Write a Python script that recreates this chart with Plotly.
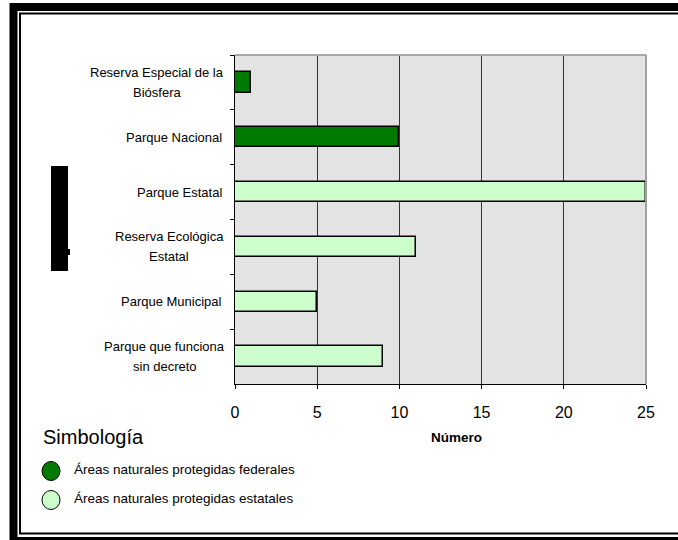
import plotly.graph_objects as go

# Categorías (de arriba hacia abajo) y etiquetas mostradas
categorias = [
    "Reserva Especial de la Biósfera",
    "Parque Nacional",
    "Parque Estatal",
    "Reserva Ecológica Estatal",
    "Parque Municipal",
    "Parque que funciona sin decreto",
]
etiquetas = [
    ["Reserva Especial de la", "Biósfera"],
    ["Parque Nacional"],
    ["Parque Estatal"],
    ["Reserva Ecológica", "Estatal"],
    ["Parque Municipal"],
    ["Parque que funciona", "sin decreto"],
]

# Áreas naturales protegidas federales
cat_federales = ["Reserva Especial de la Biósfera", "Parque Nacional"]
val_federales = [1, 10]

# Áreas naturales protegidas estatales
cat_estatales = ["Parque Estatal", "Reserva Ecológica Estatal",
                 "Parque Municipal", "Parque que funciona sin decreto"]
val_estatales = [25, 11, 5, 9]

x_ticks = [0, 5, 10, 15, 20, 25]

VERDE = "#007A00"
VERDE_CLARO = "#CCFFCC"
FONT = "Liberation Sans, Arial, sans-serif"

W, H = 678, 540
ML, MR, MT, MB = 235, 32, 55, 156
PW, PH = W - ML - MR, H - MT - MB

# Centro horizontal (px) de las etiquetas de dos líneas
CENTRO_ETIQ = {0: 157, 3: 169, 5: 164.5}


def px(x):
    return (x - ML) / PW


def py(y):
    return (H - MB - y) / PH


fig = go.Figure()
fig.add_trace(go.Bar(
    y=cat_federales, x=val_federales, orientation="h", width=0.37,
    marker=dict(color=VERDE, line=dict(color="black", width=1.5)),
    name="Áreas naturales protegidas federales", showlegend=False,
))
fig.add_trace(go.Bar(
    y=cat_estatales, x=val_estatales, orientation="h", width=0.37,
    marker=dict(color=VERDE_CLARO, line=dict(color="black", width=1.5)),
    name="Áreas naturales protegidas estatales", showlegend=False,
))

shapes = []
annotations = []

# Etiquetas de categoría, líneas centradas con interlineado amplio
for k, (cat, lineas) in enumerate(zip(categorias, etiquetas)):
    n = len(lineas)
    for i, linea in enumerate(lineas):
        if n > 1:
            xa, anchor = px(CENTRO_ETIQ[k]), "center"
        else:
            xa, anchor = px(224), "right"
        annotations.append(dict(
            text=linea, xref="paper", yref="y", x=xa, y=cat,
            xanchor=anchor, yanchor="middle", showarrow=False,
            yshift=((n - 1) / 2 - i) * 20,
            font=dict(family=FONT, size=13, color="black"),
        ))

# Título del eje horizontal
annotations.append(dict(
    text="<b>Número</b>", xref="paper", yref="paper", x=px(456), y=py(437),
    xanchor="center", yanchor="middle", showarrow=False,
    font=dict(family=FONT, size=13.5, color="black"),
))

# Simbología
annotations.append(dict(
    text="Simbología", xref="paper", yref="paper", x=px(41), y=py(437),
    xanchor="left", yanchor="middle", showarrow=False,
    font=dict(family=FONT, size=20, color="black"),
))
for yc, color, texto in [(471, VERDE, "Áreas naturales protegidas federales"),
                         (500, VERDE_CLARO, "Áreas naturales protegidas estatales")]:
    shapes.append(dict(type="circle", xref="paper", yref="paper",
                       x0=px(42), x1=px(60), y0=py(yc + 9.5), y1=py(yc - 9.5),
                       fillcolor=color, line=dict(color="black", width=1)))
    annotations.append(dict(
        text=texto, xref="paper", yref="paper", x=px(72), y=py(yc - 2),
        xanchor="left", yanchor="middle", showarrow=False,
        font=dict(family=FONT, size=13.5, color="black"),
    ))

# Borde superior y derecho del área de trazado
shapes.append(dict(type="line", xref="paper", yref="paper", x0=0, x1=1, y0=1, y1=1,
                   line=dict(color="#A8A8A8", width=2)))
shapes.append(dict(type="line", xref="paper", yref="paper", x0=1, x1=1, y0=0, y1=1,
                   line=dict(color="#A0A0A0", width=2)))

# Bloque negro sobre el título del eje vertical
shapes.append(dict(type="rect", xref="paper", yref="paper",
                   x0=px(51), x1=px(68), y0=py(271), y1=py(166),
                   fillcolor="black", line=dict(width=0)))
shapes.append(dict(type="rect", xref="paper", yref="paper",
                   x0=px(67), x1=px(70), y0=py(255), y1=py(249),
                   fillcolor="black", line=dict(width=0)))

# Marco doble
shapes.append(dict(type="rect", xref="paper", yref="paper",
                   x0=px(13.5), x1=px(700), y0=py(541), y1=py(7),
                   line=dict(color="black", width=8)))
shapes.append(dict(type="rect", xref="paper", yref="paper",
                   x0=px(20), x1=px(700), y0=py(533.5), y1=py(13.5),
                   line=dict(color="black", width=2)))

fig.update_layout(
    width=W, height=H,
    margin=dict(l=ML, r=MR, t=MT, b=MB, pad=0),
    paper_bgcolor="white", plot_bgcolor="#E3E3E3",
    barmode="overlay", bargap=0,
    font=dict(family=FONT, color="black"),
    shapes=shapes, annotations=annotations,
    xaxis=dict(
        range=[0, 25], tickvals=x_ticks, ticktext=[str(v) for v in x_ticks],
        showgrid=True, gridcolor="#333333", gridwidth=1,
        showline=True, linecolor="black", linewidth=1,
        ticks="outside", ticklen=4, tickcolor="black", tickwidth=1,
        tickfont=dict(family=FONT, size=16, color="black"),
        ticklabelstandoff=10, zeroline=False, fixedrange=True,
    ),
    yaxis=dict(
        type="category", categoryorder="array", categoryarray=categorias,
        autorange="reversed", showticklabels=False, showgrid=False,
        showline=True, linecolor="black", linewidth=1,
        ticks="outside", ticklen=4, tickcolor="black", tickson="boundaries",
        zeroline=False, fixedrange=True,
    ),
)

fig.write_html("out.html")
